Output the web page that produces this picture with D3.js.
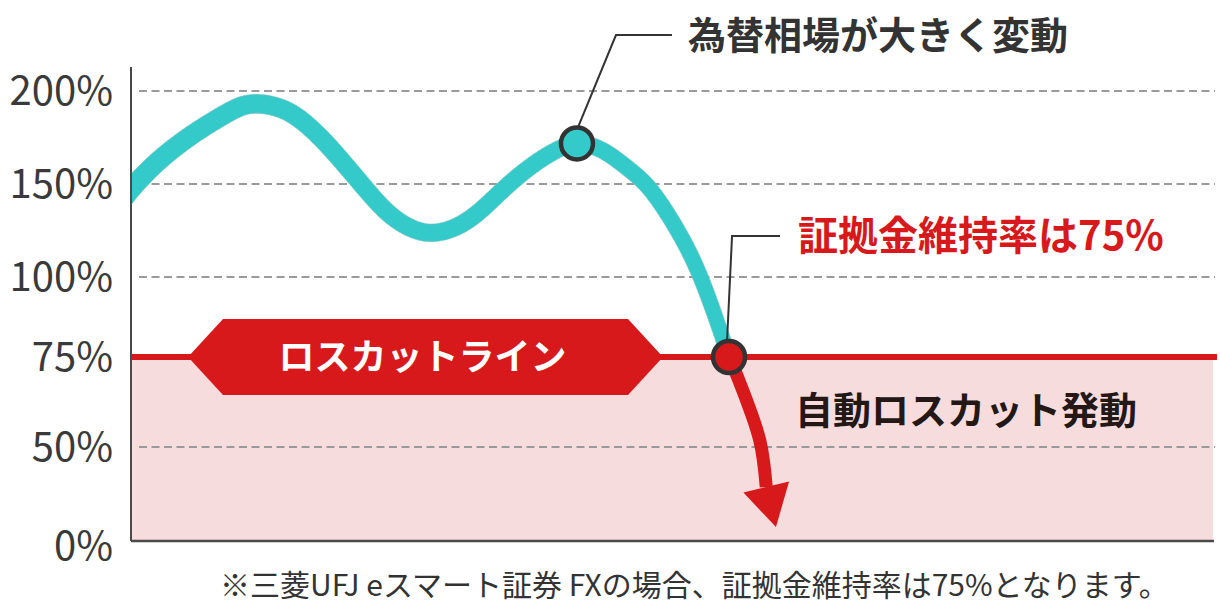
<!DOCTYPE html>
<html><head><meta charset="utf-8">
<script src="https://cdn.jsdelivr.net/npm/d3@7"></script>
<style>
html,body{margin:0;padding:0;background:#fff;}
svg{display:block;font-family:"Noto Sans CJK JP","Noto Sans",sans-serif;}
</style></head><body>
<svg id="chart" width="1220" height="610"></svg>
<script>
// ---- data ----
const yTicks = [0, 50, 75, 100, 150, 200];
const tickLabels = ["0%", "50%", "75%", "100%", "150%", "200%"];
const gridTicks = [50, 100, 150, 200];
const lossCutLevel = 75;

// margin ratio path (time index 0..100)
const rateTime  = [-1.0, 0, 2.49, 5.63, 8.67, 10.06, 11.16, 12.36, 13.93, 15.59, 17.9, 20.94, 23.43, 25.55, 27.58, 29.89, 32.01, 34.04, 36.35, 38.65, 41.14, 43.73, 46.03, 47.88, 50.65, 52.68, 55.17];
const rateValue = [139.8, 147.8, 162.9, 176.9, 187.6, 191.9, 193.3, 193.0, 190.9, 185.5, 173.1, 152.2, 134.9, 126.3, 122.6, 125.8, 133.9, 145.7, 157.5, 166.7, 173.7, 168.3, 157.5, 148.9, 123.7, 100, 75];

// drop after loss cut (arrow)
const dropTime  = [55.17, 55.8, 58.0, 58.6];
const dropValue = [75, 70.6, 51.9, 28.7];
const dropTip   = [59.5, 7.4];

const markFx = [41.14, 171.8];  // 為替相場が大きく変動
const markCut = [55.17, 75];    // 証拠金維持率は75%

const titleText = "為替相場が大きく変動";
const levelText = "証拠金維持率は";
const levelNum  = "75%";
const lineText  = "ロスカットライン";
const zoneText  = "自動ロスカット発動";
const noteText  = "※三菱UFJ eスマート証券 FXの場合、証拠金維持率は75%となります。";

// ---- colours ----
const TEAL = "#35caca", RED = "#d7191c", PINK = "#f7dcdd", DARK = "#333333", GRID = "#9a9a9a", AXIS = "#4a4a4a";

// ---- scales ----
const x = d3.scaleLinear().domain([0, 100]).range([131, 1215]);
const y = d3.scaleLinear().domain(yTicks).range([541, 447, 357, 277, 184, 91]);

const svg = d3.select("#chart");
const left = x(0), right = x(100), bottom = y(0);

svg.append("defs").append("clipPath").attr("id", "plot")
  .append("rect").attr("x", left).attr("y", 0).attr("width", right - left).attr("height", bottom);

// pink loss-cut zone
svg.append("rect")
  .attr("x", left).attr("y", y(lossCutLevel)).attr("width", right - left - 2)
  .attr("height", bottom - y(lossCutLevel)).attr("fill", PINK);

// grid
svg.append("g").selectAll("line").data(gridTicks).join("line")
  .attr("x1", left + 8).attr("x2", right).attr("y1", d => y(d)).attr("y2", d => y(d))
  .attr("stroke", GRID).attr("stroke-width", 2).attr("stroke-dasharray", "8,4.5");

// loss cut line
svg.append("line").attr("x1", left).attr("x2", right + 2)
  .attr("y1", y(lossCutLevel)).attr("y2", y(lossCutLevel))
  .attr("stroke", RED).attr("stroke-width", 6);

// hexagon label
const hx0 = 188, hx1 = 663, hs = 35, hh = 38, hy = y(lossCutLevel);
svg.append("path")
  .attr("d", `M${hx0},${hy}L${hx0 + hs},${hy - hh}L${hx1 - hs},${hy - hh}L${hx1},${hy}L${hx1 - hs},${hy + hh}L${hx0 + hs},${hy + hh}Z`)
  .attr("fill", RED);
svg.append("text").attr("x", (hx0 + hx1) / 2 - 3).attr("y", hy).attr("dy", "0.36em")
  .attr("text-anchor", "middle").attr("fill", "#fff").attr("font-weight", 700)
  .attr("font-size", 36).text(lineText);

// teal rate curve with tapering width
const line = d3.line().x(d => x(d[0])).y(d => y(d[1])).curve(d3.curveBasis);
const ratePts = rateTime.map((t, i) => [t, rateValue[i]]);
const tmp = svg.append("path").attr("d", line(ratePts)).attr("fill", "none");
const node = tmp.node(), L = node.getTotalLength(), N = 600;
const samples = d3.range(N + 1).map(i => node.getPointAtLength(L * i / N));
tmp.remove();
const sideA = [], sideB = [];
samples.forEach((p, i) => {
  const a = samples[Math.max(i - 2, 0)], b = samples[Math.min(i + 2, N)];
  const dx = b.x - a.x, dy = b.y - a.y, len = Math.hypot(dx, dy) || 1;
  const nx = -dy / len, ny = dx / len, w = (20 - 5 * i / N) / 2;
  sideA.push([p.x + nx * w, p.y + ny * w]);
  sideB.push([p.x - nx * w, p.y - ny * w]);
});
const poly = sideA.concat(sideB.reverse());
svg.append("path").attr("clip-path", "url(#plot)")
  .attr("d", "M" + poly.map(p => p.join(",")).join("L") + "Z")
  .attr("fill", TEAL).attr("stroke", "#7fbdbd").attr("stroke-width", 0.6);

// arrow
const arrowLine = d3.line().x(d => x(d[0])).y(d => y(d[1])).curve(d3.curveCatmullRom.alpha(0.5));
const dropPts = dropTime.map((t, i) => [t, dropValue[i]]);
svg.append("path").attr("d", arrowLine(dropPts)).attr("fill", "none")
  .attr("stroke", RED).attr("stroke-width", 13);
const base = [x(dropTime[dropTime.length - 1]), y(dropValue[dropValue.length - 1])];
const tip = [x(dropTip[0]), y(dropTip[1])];
{
  const dx = tip[0] - base[0], dy = tip[1] - base[1], len = Math.hypot(dx, dy);
  const px = -dy / len * 23.5, py = dx / len * 23.5;
  svg.append("path")
    .attr("d", `M${tip[0]},${tip[1]}L${base[0] + px},${base[1] + py}L${base[0] - px},${base[1] - py}Z`)
    .attr("fill", RED);
}

// axes
svg.append("line").attr("x1", left).attr("x2", left).attr("y1", 67).attr("y2", bottom)
  .attr("stroke", AXIS).attr("stroke-width", 2);
svg.append("line").attr("x1", left).attr("x2", right - 1).attr("y1", bottom).attr("y2", bottom)
  .attr("stroke", AXIS).attr("stroke-width", 2.5);

const yAxis = svg.append("g").attr("transform", `translate(${left},0)`)
  .call(d3.axisLeft(y).tickValues(yTicks).tickFormat((d, i) => tickLabels[i]).tickSize(0).tickPadding(18));
yAxis.select(".domain").remove();
yAxis.selectAll("text").attr("font-size", 40).attr("fill", "#3a3a3a")
  .attr("font-family", '"Noto Sans CJK JP","Noto Sans",sans-serif')
  .attr("dy", (d) => d === 0 ? "0.46em" : "0.33em");

// leaders and markers
const fx = [x(markFx[0]), y(markFx[1])];
const cut = [x(markCut[0]), y(markCut[1])];
svg.append("path").attr("d", `M${fx[0] + 1},${fx[1] - 16}L${fx[0] + 39},35L${fx[0] + 95},35`)
  .attr("fill", "none").attr("stroke", DARK).attr("stroke-width", 2);
svg.append("path").attr("d", `M${cut[0] - 2},${cut[1] - 16}L${cut[0] + 3},236L${cut[0] + 51},236`)
  .attr("fill", "none").attr("stroke", DARK).attr("stroke-width", 2);

svg.append("circle").attr("cx", fx[0]).attr("cy", fx[1]).attr("r", 16)
  .attr("fill", TEAL).attr("stroke", DARK).attr("stroke-width", 4.5);
svg.append("circle").attr("cx", cut[0]).attr("cy", cut[1]).attr("r", 16)
  .attr("fill", RED).attr("stroke", DARK).attr("stroke-width", 4.5);

// texts
svg.append("text").attr("x", fx[0] + 111).attr("y", 35).attr("dy", "0.36em")
  .attr("font-size", 38).attr("font-weight", 700).attr("fill", DARK).text(titleText);
const lt = svg.append("text").attr("x", cut[0] + 69).attr("y", 236).attr("dy", "0.36em")
  .attr("font-size", 40).attr("font-weight", 700).attr("fill", RED);
lt.append("tspan").text(levelText);
lt.append("tspan").text(levelNum);
svg.append("text").attr("x", 795).attr("y", 410).attr("dy", "0.36em")
  .attr("font-size", 38).attr("font-weight", 700).attr("fill", "#231815").text(zoneText);
svg.append("text").attr("x", 220).attr("y", 585).attr("dy", "0.36em")
  .attr("font-size", 30).attr("fill", DARK).text(noteText);
</script>
</body></html>
